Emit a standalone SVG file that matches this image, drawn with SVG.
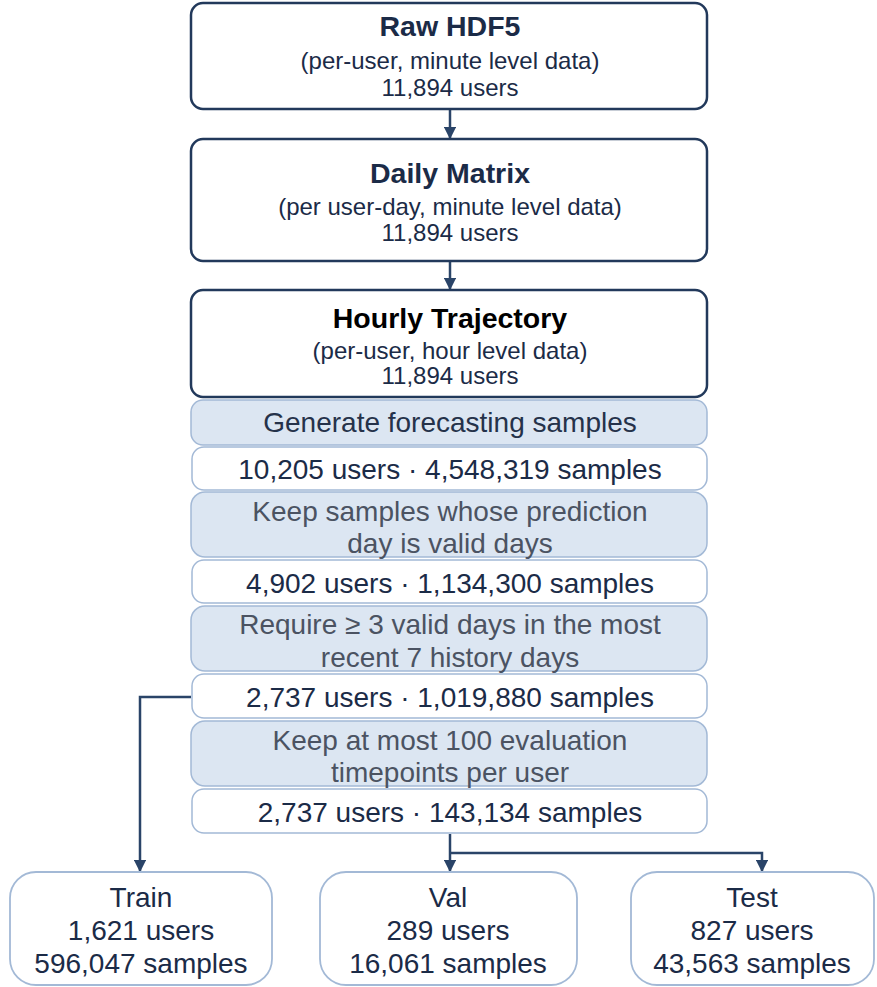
<svg xmlns="http://www.w3.org/2000/svg" width="877" height="987" viewBox="0 0 877 987">
<style>
text{font-family:"Liberation Sans",Arial,sans-serif;text-anchor:middle;fill:#1b2b47}
.main{fill:#fff;stroke:#22395b;stroke-width:2.5}
.filt{fill:#dce6f2;stroke:#a3b9d6;stroke-width:1.5}
.stat{fill:#fff;stroke:#a3b9d6;stroke-width:1.5}
.split{fill:#fff;stroke:#a3b9d6;stroke-width:1.8}
.t{font-size:28.5px;font-weight:bold}
.s{font-size:24px}
.f{font-size:28px;fill:#4b5362}
.g{font-size:28px;fill:#25324a}
.n{font-size:28px}
.c{fill:none;stroke:#2a4468;stroke-width:2.5}
</style>
<defs>
<marker id="ah" viewBox="0 0 10 10" refX="9" refY="5" markerWidth="5" markerHeight="5" orient="auto" markerUnits="strokeWidth">
<path d="M0,0 L10,5 L0,10 z" fill="#2a4468"/>
</marker>
</defs>
<g id="connectors">
<line class="c" x1="450" y1="110" x2="450" y2="138" marker-end="url(#ah)"/>
<line class="c" x1="450" y1="262" x2="450" y2="289" marker-end="url(#ah)"/>
<polyline class="c" points="191,697 140,697 140,871" marker-end="url(#ah)"/>
<line class="c" x1="450" y1="834" x2="450" y2="871" marker-end="url(#ah)"/>
<polyline class="c" points="450,853 762,853 762,871" marker-end="url(#ah)"/>
</g>
<g id="raw">
<rect class="main" x="191" y="3" width="516" height="106" rx="12"/>
<text class="t" x="450" y="36">Raw HDF5</text>
<text class="s" x="450" y="69">(per-user, minute level data)</text>
<text class="s" x="450" y="96">11,894 users</text>
</g>
<g id="daily">
<rect class="main" x="191" y="139" width="516" height="122" rx="12"/>
<text class="t" x="450" y="183">Daily Matrix</text>
<text class="s" x="450" y="215">(per user-day, minute level data)</text>
<text class="s" x="450" y="241">11,894 users</text>
</g>
<g id="hourly">
<rect class="main" x="191" y="290" width="516" height="107" rx="12"/>
<text class="t" x="450" y="328" style="fill:#000">Hourly Trajectory</text>
<text class="s" x="450" y="359">(per-user, hour level data)</text>
<text class="s" x="450" y="384">11,894 users</text>
</g>
<g id="generate">
<rect class="filt" x="191" y="400" width="516" height="45" rx="12"/>
<text class="g" x="450" y="432">Generate forecasting samples</text>
</g>
<g id="stat1">
<rect class="stat" x="192" y="447" width="515" height="43" rx="12"/>
<text class="n" x="450" y="479">10,205 users · 4,548,319 samples</text>
</g>
<g id="filter1">
<rect class="filt" x="191" y="492" width="516" height="65" rx="14"/>
<text class="f" x="450" y="521">Keep samples whose prediction</text>
<text class="f" x="450" y="553">day is valid days</text>
</g>
<g id="stat2">
<rect class="stat" x="192" y="560" width="515" height="43" rx="12"/>
<text class="n" x="450" y="593">4,902 users · 1,134,300 samples</text>
</g>
<g id="filter2">
<rect class="filt" x="191" y="606" width="516" height="65" rx="14"/>
<text class="f" x="450" y="634">Require ≥ 3 valid days in the most</text>
<text class="f" x="450" y="667">recent 7 history days</text>
</g>
<g id="stat3">
<rect class="stat" x="192" y="674" width="515" height="44" rx="12"/>
<text class="n" x="450" y="707">2,737 users · 1,019,880 samples</text>
</g>
<g id="filter3">
<rect class="filt" x="191" y="721" width="516" height="65" rx="14"/>
<text class="f" x="450" y="750">Keep at most 100 evaluation</text>
<text class="f" x="450" y="782">timepoints per user</text>
</g>
<g id="stat4">
<rect class="stat" x="192" y="789" width="515" height="44" rx="12"/>
<text class="n" x="450" y="822">2,737 users · 143,134 samples</text>
</g>
<g id="train">
<rect class="split" x="10" y="872" width="262" height="113" rx="26"/>
<text class="n" x="141" y="907">Train</text>
<text class="n" x="141" y="940">1,621 users</text>
<text class="n" x="141" y="973">596,047 samples</text>
</g>
<g id="val">
<rect class="split" x="320" y="872" width="257" height="113" rx="26"/>
<text class="n" x="448" y="907">Val</text>
<text class="n" x="448" y="940">289 users</text>
<text class="n" x="448" y="973">16,061 samples</text>
</g>
<g id="test">
<rect class="split" x="631" y="872" width="243" height="113" rx="26"/>
<text class="n" x="752" y="907">Test</text>
<text class="n" x="752" y="940">827 users</text>
<text class="n" x="752" y="973">43,563 samples</text>
</g>
</svg>
